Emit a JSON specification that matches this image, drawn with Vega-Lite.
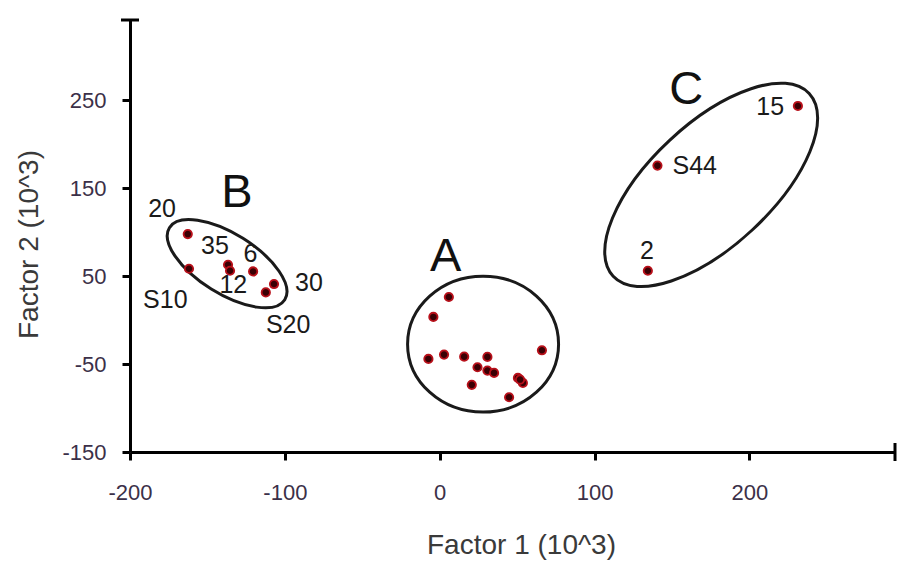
{
  "$schema": "https://vega.github.io/schema/vega-lite/v6.json",
  "width": 765,
  "height": 432,
  "autosize": {"type": "none"},
  "padding": {"left": 130, "top": 20, "right": 2, "bottom": 115},
  "background": "white",
  "config": {
    "view": {"stroke": null},
    "font": "Liberation Sans"
  },
  "datasets": {
    "points": [
      {"x": -162.7, "y": 97.7, "group": "B"},
      {"x": -161.9, "y": 58.3, "group": "B"},
      {"x": -136.7, "y": 62.8, "group": "B"},
      {"x": -135.4, "y": 56.0, "group": "B"},
      {"x": -120.5, "y": 55.2, "group": "B"},
      {"x": -107.0, "y": 40.9, "group": "B"},
      {"x": -112.3, "y": 31.4, "group": "B"},
      {"x": 231.3, "y": 243.3, "group": "C"},
      {"x": 140.6, "y": 175.5, "group": "C"},
      {"x": 134.4, "y": 56.0, "group": "C"},
      {"x": 5.9, "y": 26.2, "group": "A"},
      {"x": -4.1, "y": 3.5, "group": "A"},
      {"x": -7.3, "y": -44.2, "group": "A"},
      {"x": 2.8, "y": -39.3, "group": "A"},
      {"x": 15.8, "y": -41.6, "group": "A"},
      {"x": 30.8, "y": -41.9, "group": "A"},
      {"x": 24.4, "y": -53.7, "group": "A"},
      {"x": 30.8, "y": -57.5, "group": "A"},
      {"x": 35.1, "y": -60.1, "group": "A"},
      {"x": 20.7, "y": -73.7, "group": "A"},
      {"x": 50.5, "y": -65.8, "group": "A"},
      {"x": 53.7, "y": -71.5, "group": "A"},
      {"x": 51.9, "y": -67.7, "group": "A"},
      {"x": 44.8, "y": -87.8, "group": "A"},
      {"x": 66.0, "y": -34.4, "group": "A"}
    ],
    "labels": [
      {"label": "20", "x": -179.3, "y": 126.4},
      {"label": "35", "x": -145.1, "y": 83.6},
      {"label": "6", "x": -122.2, "y": 75.3},
      {"label": "12", "x": -133.3, "y": 40.1},
      {"label": "30", "x": -84.4, "y": 42.4},
      {"label": "S10", "x": -177.2, "y": 23.1},
      {"label": "S20", "x": -97.9, "y": -5.3},
      {"label": "15", "x": 213.4, "y": 242.5},
      {"label": "S44", "x": 164.7, "y": 175.4},
      {"label": "2", "x": 133.8, "y": 78.7}
    ],
    "groups": [
      {"label": "A", "x": 3.8, "y": 71.1},
      {"label": "B", "x": -130.9, "y": 144.6},
      {"label": "C", "x": 159.2, "y": 261.8}
    ],
    "ellipses": [
      {"group": "A", "x": 28.0, "y": -27.4},
      {"group": "B", "x": -137.3, "y": 64.0},
      {"group": "C", "x": 175.3, "y": 153.6}
    ],
    "axisEnds": [
      {"x": -200, "y": 341, "end": "top"},
      {"x": 294, "y": -150, "end": "right"}
    ]
  },
  "encoding": {
    "x": {
      "field": "x", "type": "quantitative",
      "scale": {"domain": [-200, 294], "nice": false, "zero": false},
      "axis": {
        "values": [-200, -100, 0, 100, 200],
        "grid": false,
        "labelFlush": false,
        "labelExpr": "replace(datum.label, '\u2212', '-')",
        "domainColor": "black", "domainWidth": 3,
        "tickColor": "black", "tickWidth": 3, "tickSize": 8,
        "labelFont": "Liberation Sans", "labelFontSize": 22, "labelColor": "#3b3048",
        "labelPadding": 22,
        "title": "Factor 1 (10^3)",
        "titleFont": "Liberation Sans", "titleFontSize": 28, "titleFontWeight": "normal", "titleColor": "#3a3a3a",
        "titleX": 391, "titleY": 101, "titleAlign": "center", "titleBaseline": "alphabetic"
      }
    },
    "y": {
      "field": "y", "type": "quantitative",
      "scale": {"domain": [-150, 341], "nice": false, "zero": false},
      "axis": {
        "values": [-150, -50, 50, 150, 250],
        "grid": false,
        "labelFlush": false,
        "labelExpr": "replace(datum.label, '\u2212', '-')",
        "domainColor": "black", "domainWidth": 3,
        "tickColor": "black", "tickWidth": 3, "tickSize": 8,
        "labelFont": "Liberation Sans", "labelFontSize": 22, "labelColor": "#3b3048",
        "labelPadding": 16,
        "title": "Factor 2 (10^3)",
        "titleFont": "Liberation Sans", "titleFontSize": 28, "titleFontWeight": "normal", "titleColor": "#3a3a3a",
        "titleX": -93, "titleY": 224, "titleAlign": "center", "titleBaseline": "alphabetic", "titleAngle": -90
      }
    }
  },
  "layer": [
    {
      "data": {"name": "ellipses"},
      "transform": [{"filter": "datum.group === 'A'"}],
      "mark": {
        "type": "point", "filled": false, "stroke": "#1a1a1a", "strokeWidth": 3, "opacity": 1,
        "shape": "M1,0C1,0.497,0.552,0.9,0,0.9C-0.552,0.9,-1,0.497,-1,0C-1,-0.497,-0.552,-0.9,0,-0.9C0.552,-0.9,1,-0.497,1,0Z",
        "size": 22801
      }
    },
    {
      "data": {"name": "ellipses"},
      "transform": [{"filter": "datum.group === 'B'"}],
      "mark": {
        "type": "point", "filled": false, "stroke": "#1a1a1a", "strokeWidth": 3, "opacity": 1,
        "shape": "M1,0C1,0.243,0.552,0.44,0,0.44C-0.552,0.44,-1,0.243,-1,0C-1,-0.243,-0.552,-0.44,0,-0.44C0.552,-0.44,1,-0.243,1,0Z",
        "size": 18496, "angle": 32
      }
    },
    {
      "data": {"name": "ellipses"},
      "transform": [{"filter": "datum.group === 'C'"}],
      "mark": {
        "type": "point", "filled": false, "stroke": "#1a1a1a", "strokeWidth": 3, "opacity": 1,
        "shape": "M1,0C1,0.251,0.552,0.455,0,0.455C-0.552,0.455,-1,0.251,-1,0C-1,-0.251,-0.552,-0.455,0,-0.455C0.552,-0.455,1,-0.251,1,0Z",
        "size": 71824, "angle": -43
      }
    },
    {
      "data": {"name": "points"},
      "mark": {"type": "point", "shape": "circle", "filled": true, "fill": "#3a0004", "stroke": "#b8101a", "strokeWidth": 1.8, "opacity": 1, "size": 70}
    },
    {
      "data": {"name": "labels"},
      "mark": {"type": "text", "font": "Liberation Sans", "fontSize": 25, "color": "#1a1a1a", "align": "center", "baseline": "middle"},
      "encoding": {"text": {"field": "label"}}
    },
    {
      "data": {"name": "groups"},
      "mark": {"type": "text", "font": "Liberation Sans", "fontSize": 47, "color": "#111111", "align": "center", "baseline": "middle"},
      "encoding": {"text": {"field": "label"}}
    },
    {
      "data": {"name": "axisEnds"},
      "transform": [{"filter": "datum.end === 'top'"}],
      "mark": {"type": "tick", "orient": "horizontal", "color": "black", "size": 18, "thickness": 3, "opacity": 1}
    },
    {
      "data": {"name": "axisEnds"},
      "transform": [{"filter": "datum.end === 'right'"}],
      "mark": {"type": "tick", "orient": "vertical", "color": "black", "size": 18, "thickness": 3, "opacity": 1}
    }
  ]
}
